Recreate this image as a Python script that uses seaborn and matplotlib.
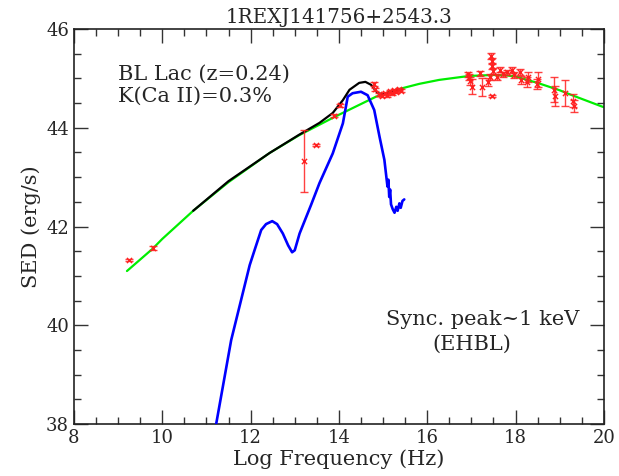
import numpy as np
import pandas as pd
import matplotlib
matplotlib.use("Agg")
import matplotlib.pyplot as plt
import seaborn as sns
from matplotlib.ticker import MultipleLocator

sns.set_style("ticks")
plt.rcParams['font.family'] = ['DejaVu Serif']

title = "1REXJ141756+2543.3"

# synchrotron fit (green)
green_x = [9.2, 9.78, 10.0, 10.7, 11.5, 12.43, 13.1, 13.9, 14.84, 15.3, 15.82, 16.27,
           16.95, 17.5, 17.8, 18.0, 18.53, 19.0, 19.28, 19.96, 20.0]
green_y = [41.10, 41.55, 41.75, 42.32, 42.90, 43.49, 43.85, 44.22, 44.63, 44.77, 44.89, 44.97,
           45.05, 45.07, 45.06, 45.04, 44.90, 44.76, 44.66, 44.43, 44.42]

# total model (black)
black_x = [10.7, 11.5, 12.43, 13.1, 13.56, 13.86, 14.09, 14.24, 14.46, 14.6, 14.73, 14.88,
           15.0, 15.2, 15.43]
black_y = [42.32, 42.92, 43.49, 43.86, 44.10, 44.30, 44.56, 44.77, 44.91, 44.93, 44.87, 44.70,
           44.68, 44.73, 44.78]

# host galaxy template (blue)
blue_x = [11.2, 11.56, 11.98, 12.1, 12.24, 12.35, 12.49, 12.6, 12.73, 12.85, 12.94, 13.0, 13.11,
          13.37, 13.56, 13.86, 14.09, 14.2, 14.31, 14.5, 14.65, 14.8, 14.92, 15.03, 15.1,
          15.12, 15.14, 15.16, 15.18, 15.22, 15.26, 15.3, 15.33, 15.37, 15.4, 15.44, 15.48]
blue_y = [37.9, 39.70, 41.22, 41.55, 41.93, 42.05, 42.11, 42.05, 41.86, 41.62, 41.48, 41.52, 41.86,
          42.44, 42.88, 43.48, 44.09, 44.63, 44.70, 44.73, 44.66, 44.36, 43.82, 43.35, 42.81,
          42.95, 42.60, 42.75, 42.45, 42.35, 42.28, 42.40, 42.32, 42.47, 42.38, 42.52, 42.55]

# observed data (red)
data_x = [9.24, 9.78, 13.22, 13.48, 13.9, 14.03, 14.8, 14.82, 14.9, 14.98, 15.05, 15.1, 15.15,
          15.2, 15.25, 15.3, 15.35, 15.4,
          16.92, 16.95, 16.98, 17.02, 17.2, 17.23, 17.38, 17.42, 17.45, 17.46, 17.47, 17.48,
          17.46, 17.58, 17.65, 17.72, 17.8, 17.92, 17.97, 18.1, 18.12, 18.28, 18.27, 18.5,
          18.48, 18.88, 18.9, 19.13, 19.3, 19.32]
data_y = [41.32, 41.57, 43.33, 43.65, 44.24, 44.46, 44.88, 44.78, 44.68, 44.65, 44.70, 44.66, 44.74,
          44.70, 44.76, 44.73, 44.78, 44.75,
          45.08, 45.02, 44.95, 44.83, 45.10, 44.82, 44.93, 45.02, 45.45, 45.35, 45.25, 45.15,
          44.64, 45.03, 45.18, 45.08, 45.12, 45.17, 45.07, 45.13, 44.97, 45.02, 44.93, 44.98,
          44.88, 44.77, 44.64, 44.70, 44.55, 44.45]
data_err = [0.02, 0.04, 0.62, 0.02, 0.03, 0.03, 0.04, 0.03, 0.03, 0.03, 0.03, 0.03, 0.03,
            0.03, 0.03, 0.03, 0.03, 0.03,
            0.05, 0.06, 0.08, 0.15, 0.06, 0.18, 0.08, 0.06, 0.06, 0.06, 0.06, 0.06,
            0.02, 0.06, 0.06, 0.05, 0.06, 0.06, 0.06, 0.06, 0.08, 0.10, 0.10, 0.15,
            0.10, 0.25, 0.20, 0.26, 0.13, 0.12]

fig = plt.figure(figsize=(6.19, 4.76), dpi=100)
ax = fig.add_axes([0.1195, 0.109, 0.856, 0.830])

dg = pd.DataFrame({"x": green_x, "y": green_y})
db = pd.DataFrame({"x": black_x, "y": black_y})
dbl = pd.DataFrame({"x": blue_x, "y": blue_y})
dd = pd.DataFrame({"x": data_x, "y": data_y, "e": data_err})

sns.lineplot(data=dg, x="x", y="y", sort=False, color="#00ee00", lw=1.6, ax=ax, zorder=2)
sns.lineplot(data=dbl, x="x", y="y", sort=False, color="#0000ff", lw=1.9, ax=ax, zorder=3)
sns.lineplot(data=db, x="x", y="y", sort=False, color="black", lw=1.6, ax=ax, zorder=4)
ax.errorbar(dd["x"], dd["y"], yerr=dd["e"], fmt="none", ecolor="#ff2020", elinewidth=1.0,
            capsize=3, capthick=1.0, zorder=5, alpha=0.85)
sns.scatterplot(data=dd, x="x", y="y", marker="x", color="#ff2020", s=14, linewidth=1.0,
                ax=ax, zorder=6)

ax.set_xlim(8, 20)
ax.set_ylim(38, 46)
ax.xaxis.set_major_locator(MultipleLocator(2))
ax.xaxis.set_minor_locator(MultipleLocator(0.5))
ax.yaxis.set_major_locator(MultipleLocator(2))
ax.yaxis.set_minor_locator(MultipleLocator(0.5))
ax.tick_params(which="both", direction="in", top=True, right=True, labelsize=13, width=1.0,
               color="#333333")
ax.tick_params(which="major", length=10)
ax.tick_params(which="minor", length=5)
for s in ax.spines.values():
    s.set_linewidth(1.2)
    s.set_color("#222222")

ax.set_xlabel("Log Frequency (Hz)", fontsize=15, labelpad=2)
ax.set_ylabel("SED (erg/s)", fontsize=15, labelpad=4)
ax.set_title(title, fontsize=14.3, pad=4)

ax.text(9.0, 45.09, "BL Lac (z=0.24)", fontsize=15, va="center", ha="left")
ax.text(9.0, 44.63, "K(Ca II)=0.3%", fontsize=15, va="center", ha="left")
ax.text(17.26, 40.11, "Sync. peak~1 keV", fontsize=15, va="center", ha="center")
ax.text(17.0, 39.62, "(EHBL)", fontsize=15, va="center", ha="center")

fig.savefig("out.png", dpi=100)
